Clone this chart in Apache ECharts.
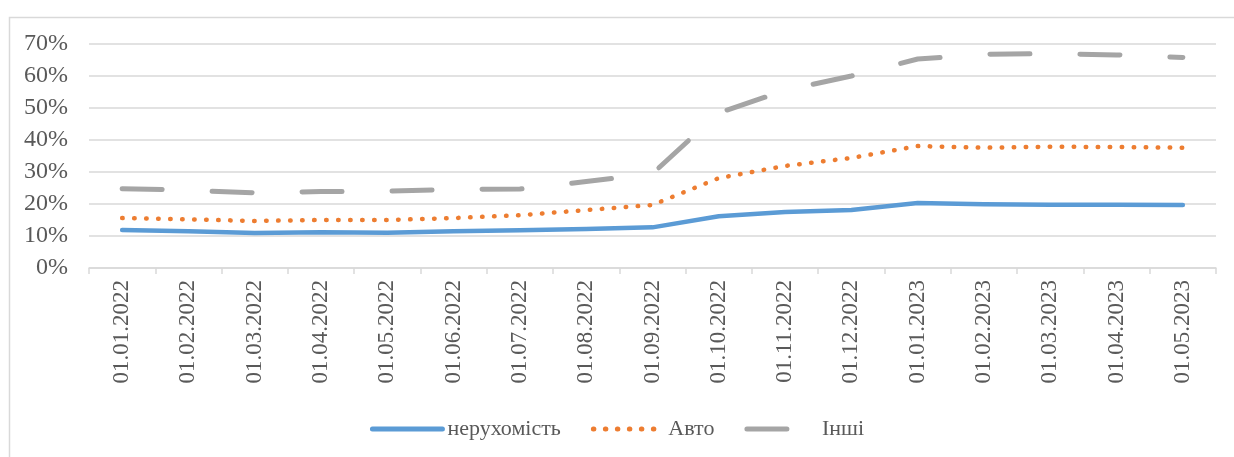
<!DOCTYPE html>
<html>
<head>
<meta charset="utf-8">
<script src="https://cdn.jsdelivr.net/npm/echarts@6/dist/echarts.min.js"></script>
<style>
html,body{margin:0;padding:0;background:#fff;}
#c{width:1234px;height:457px;}
</style>
</head>
<body>
<div id="c"></div>
<script>
const categories = ['01.01.2022','01.02.2022','01.03.2022','01.04.2022','01.05.2022','01.06.2022','01.07.2022','01.08.2022','01.09.2022','01.10.2022','01.11.2022','01.12.2022','01.01.2023','01.02.2023','01.03.2023','01.04.2023','01.05.2023'];
const realEstate = [11.9, 11.5, 10.9, 11.2, 11.0, 11.5, 11.8, 12.2, 12.7, 16.2, 17.5, 18.1, 20.3, 19.9, 19.8, 19.8, 19.7];
const auto = [15.6, 15.2, 14.7, 15.0, 15.0, 15.6, 16.5, 18.1, 19.7, 28.1, 31.9, 34.4, 38.1, 37.6, 37.9, 37.8, 37.6];
const other = [24.8, 24.3, 23.5, 23.9, 24.0, 24.6, 24.7, 27.0, 29.5, 48.5, 55.5, 60.0, 65.3, 66.8, 67.0, 66.6, 65.8];
const seriesNames = ['нерухомість', 'Авто', 'Інші'];
const yTicks = { min: 0, max: 70, interval: 10 };

const font = '"Liberation Serif", "DejaVu Serif", serif';
const chart = echarts.init(document.getElementById('c'), null, { renderer: 'canvas' });
chart.setOption({
  animation: false,
  backgroundColor: '#ffffff',
  graphic: [{
    type: 'rect', left: 7, top: 15, shape: { width: 1300, height: 500 },
    style: { fill: 'none', stroke: '#d9d9d9', lineWidth: 1.5 }, silent: true
  }],
  grid: { left: 89, right: 18, top: 44, bottom: 189, containLabel: false },
  legend: {
    bottom: 12, left: 'center', itemGap: 30, itemWidth: 70, itemHeight: 14,
    itemStyle: { opacity: 0 },
    lineStyle: { width: 5, cap: 'round' },
    textStyle: { fontFamily: font, fontSize: 22, color: '#595959' },
    data: seriesNames
  },
  xAxis: {
    type: 'category', data: categories, boundaryGap: true,
    axisLine: { lineStyle: { color: '#d9d9d9', width: 1.5 } },
    axisTick: { show: true, length: 6, lineStyle: { color: '#d9d9d9', width: 1.5 } },
    axisLabel: { rotate: 90, margin: 12, fontFamily: font, fontSize: 23, color: '#595959', interval: 0 }
  },
  yAxis: {
    type: 'value', min: yTicks.min, max: yTicks.max, interval: yTicks.interval,
    axisLine: { show: false }, axisTick: { show: false },
    splitLine: { lineStyle: { color: '#d9d9d9', width: 1.5 } },
    axisLabel: { formatter: '{value}%', margin: 21, fontFamily: font, fontSize: 24, color: '#595959' }
  },
  series: [
    { name: seriesNames[0], type: 'line', data: realEstate, symbol: 'none', color: '#5b9bd5',
      lineStyle: { width: 4.5, color: '#5b9bd5', cap: 'round', join: 'round' } },
    { name: seriesNames[1], type: 'line', data: auto, symbol: 'none', color: '#ed7d31',
      lineStyle: { width: 4.5, color: '#ed7d31', type: [0.5, 11.5], cap: 'round', join: 'round' } },
    { name: seriesNames[2], type: 'line', data: other, symbol: 'none', color: '#a5a5a5',
      lineStyle: { width: 5, color: '#a5a5a5', type: [40, 50], cap: 'round', join: 'round' } }
  ]
});
</script>
</body>
</html>
